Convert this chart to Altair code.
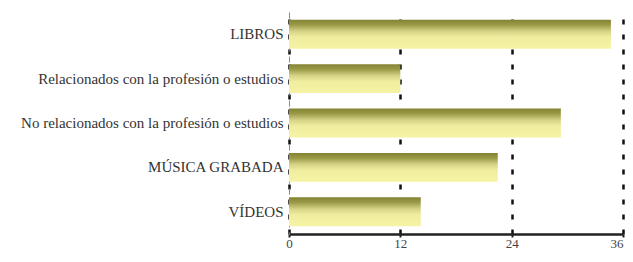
import altair as alt
import pandas as pd

categories = ["LIBROS", "Relacionados con la profesión o estudios",
              "No relacionados con la profesión o estudios", "MÚSICA GRABADA", "VÍDEOS"]
values = [34.7, 12.0, 29.3, 22.5, 14.2]
tick_values = [0, 12, 24, 36]

df = pd.DataFrame({"cat": categories, "val": values})

grad = alt.Gradient(
    gradient="linear", x1=0, x2=0, y1=0, y2=1,
    stops=[alt.GradientStop(color="#838333", offset=0),
           alt.GradientStop(color="#9a9a47", offset=0.18),
           alt.GradientStop(color="#d6d386", offset=0.4),
           alt.GradientStop(color="#f1ed9e", offset=0.6),
           alt.GradientStop(color="#f6f3a4", offset=1)])

chart = alt.Chart(df).mark_bar(color=grad).encode(
    y=alt.Y("cat:N", sort=categories, title=None,
            scale=alt.Scale(paddingInner=0.35, paddingOuter=0.175),
            axis=alt.Axis(ticks=False, labelFont="Liberation Serif", labelFontSize=15,
                          labelColor="#333333", labelPadding=6, labelLimit=400,
                          domainColor="#888888",
                          domainWidth=1, domainDash=[6, 5], grid=False)),
    x=alt.X("val:Q", title=None,
            scale=alt.Scale(domain=[0, 36], nice=False),
            axis=alt.Axis(values=tick_values, labelFont="Liberation Serif", labelFontSize=13,
                          labelColor="#444444", labelPadding=0, domainColor="#222222",
                          labelAlign=alt.expr("datum.value == 36 ? 'right' : 'center'"),
                          domainWidth=2.5, tickColor="#222222", tickWidth=2, tickSize=3,
                          grid=True, gridColor="#111111", gridWidth=2.5, gridDash=[5, 10]))
).properties(
    width=334, height=222,
    autosize=alt.AutoSizeParams(type="none"),
    padding={"left": 281, "top": 4, "right": 2, "bottom": 16}
).configure_view(stroke=None)

chart.save("out.html", embed_options={"renderer": "svg", "actions": False})
